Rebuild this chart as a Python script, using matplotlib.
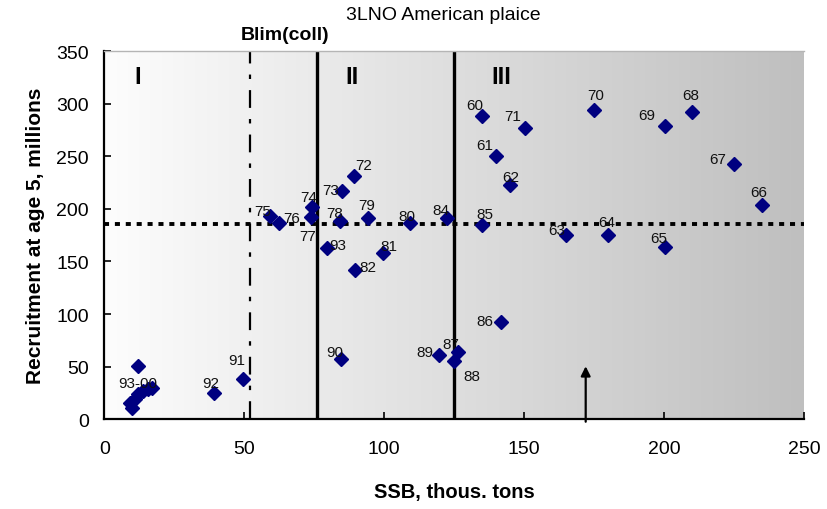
import numpy as np
import matplotlib
matplotlib.use("Agg")
import matplotlib.pyplot as plt

plt.rcParams['font.family'] = ['Liberation Sans', 'DejaVu Sans']

# Data: SSB (thous. tons) and recruitment at age 5 (millions)
years = ["60", "61", "62", "63", "64", "65", "66", "67", "68", "69", "70", "71",
         "72", "73", "74", "75", "76", "77", "78", "79", "80", "81", "82", "93",
         "84", "85", "86", "87", "88", "89", "90", "91", "92",
         "", "93-00", "", "", "", "", "", ""]
ssb = [135.1, 140.1, 144.9, 165.1, 180.1, 200.2, 235.0, 225.0, 210.1, 200.2, 175.0, 150.3,
       89.3, 84.8, 74.1, 59.2, 62.3, 73.8, 84.2, 94.3, 109.4, 99.4, 89.4, 79.4,
       122.3, 135.0, 141.6, 126.2, 125.0, 119.5, 84.4, 49.4, 39.3,
       12.1, 12.1, 9.8, 9.2, 11.0, 13.9, 15.7, 16.9]
rec = [287.9, 249.8, 222.9, 175.5, 175.5, 164.1, 204.1, 242.2, 292.0, 278.4, 293.6, 276.8,
       231.1, 217.4, 201.6, 193.0, 186.7, 192.4, 188.9, 191.4, 186.7, 158.1, 141.9, 162.6,
       191.1, 185.0, 92.1, 64.1, 55.5, 61.2, 57.1, 38.7, 24.8,
       50.2, 23.8, 11.1, 15.9, 19.0, 27.0, 28.6, 30.0]
# label offsets in pixels (dx, dy up)
label_dx = [-8, -12, 1, -10, -2, -6, -3, -16, -2, -18, 2, -12,
            9, -11, -3, -7, 13, -3, -5, -2, -4, 6, 13, 11,
            -6, 3, -16, -7, 18, -14, -6, -6, -4,
            0, 0, 0, 0, 0, 0, 0, 0]
label_dy = [11, 11, 8, 5, 13, 9, 13, 5, 17, 11, 15, 12,
            11, 1, 10, 5, 5, -19, 8, 13, 7, 7, 3, 3,
            8, 11, 1, 8, -15, 3, 7, 19, 10,
            0, 11, 0, 0, 0, 0, 0, 0]

blim = 52
zone_lines = [76, 125]
rec_ref = 186
arrow_x = 172
zone_labels = ["I", "II", "III"]
zone_label_x = [12, 88.5, 142]

fig = plt.figure(figsize=(8.28, 5.10), dpi=100)
ax = fig.add_axes([0.126, 0.176, 0.845, 0.722])
ax.set_xlim(0, 250)
ax.set_ylim(0, 350)

# background gradient
grad = np.linspace(0, 1, 256).reshape(1, -1)
cmap = matplotlib.colors.LinearSegmentedColormap.from_list("g", ["#fdfdfd", "#bfbfbf"])
ax.imshow(grad, extent=[0, 250, 0, 350], aspect='auto', cmap=cmap, zorder=0)

ax.axvline(blim, color='black', lw=1.6, linestyle=(0, (8, 5, 2, 5)), zorder=1)
for zl in zone_lines:
    ax.axvline(zl, color='black', lw=2.4, zorder=1)
ax.axhline(rec_ref, color='black', lw=2.8, linestyle=(0, (1.3, 1.5)), zorder=1)

ax.plot(ssb, rec, linestyle='none', marker='D', markersize=7.5, color='#000080',
        markeredgecolor='#000080', zorder=3)

for lab, x, y, dx, dy in zip(years, ssb, rec, label_dx, label_dy):
    if lab:
        ax.annotate(lab, (x, y), xytext=(dx, dy), textcoords='offset pixels',
                    ha='center', va='center', fontsize=11, color='#111111', zorder=4)

for zl, zx in zip(zone_labels, zone_label_x):
    ax.text(zx, 326, zl, ha='center', va='center', fontsize=17, fontweight='bold')

ax.text(64.5, 366, "Blim(coll)", ha='center', va='center', fontsize=14,
        fontweight='bold', clip_on=False)

ax.annotate("", xy=(arrow_x, 53), xytext=(arrow_x, -5),
            arrowprops=dict(arrowstyle='-|>', color='black', lw=1.6, mutation_scale=14),
            annotation_clip=False, zorder=5)

fig.text(0.535, 0.970, "3LNO American plaice", ha='center', va='center', fontsize=14)

ax.set_xticks([0, 50, 100, 150, 200, 250])
ax.set_yticks(range(0, 351, 50))
ax.tick_params(axis='both', direction='in', length=5, width=1.2, labelsize=14)
ax.tick_params(axis='x', pad=15)
ax.tick_params(axis='y', pad=11)

ax.set_xlabel("SSB, thous. tons", fontsize=14.5, fontweight='bold', labelpad=18)
ax.set_ylabel("Recruitment at age 5, millions", fontsize=15, fontweight='bold', labelpad=8)

for s in ['left', 'bottom']:
    ax.spines[s].set_linewidth(1.6)
    ax.spines[s].set_color('black')
ax.spines['top'].set_color('#b5b5b5')
ax.spines['top'].set_linewidth(1.0)
ax.spines['right'].set_visible(False)

fig.savefig("out.png", dpi=100)
